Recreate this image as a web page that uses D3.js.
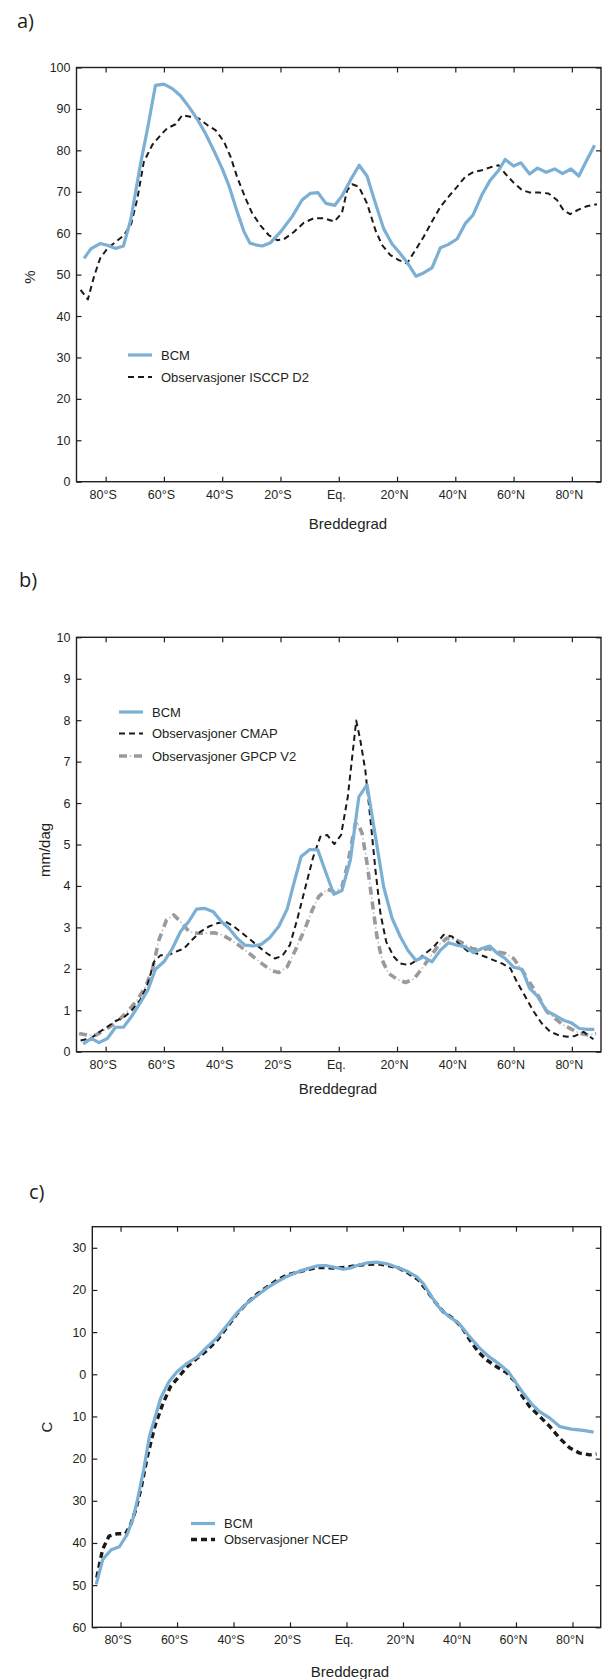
<!DOCTYPE html>
<html>
<head>
<meta charset="utf-8">
<script src="https://cdn.jsdelivr.net/npm/d3@7"></script>
<style>
  body { margin: 0; background: #fff; }
  svg { display: block; font-family: "Liberation Sans", Arial, sans-serif; }
  .tick text { fill: #231f20; }
</style>
</head>
<body>
<svg id="chart" width="613" height="1679"></svg>
<script>
// latitude ticks, shared by all three panels
const lonTicks = [-80, -60, -40, -20, 0, 20, 40, 60, 80]
const lonLabels = ["80°S", "60°S", "40°S", "20°S", "Eq.", "20°N", "40°N", "60°N", "80°N"]

// a) cloud cover (%)
const cloudBcmLat = [-87.4, -85.1, -81.9, -79.4, -76.6, -73.9, -71.4, -68, -65.5, -62.9, -60, -57.1, -54.3, -51.4, -48.6, -45.7, -42.9, -40, -37.7, -35, -32.6, -30.5, -28, -26.3, -23.4, -20, -16, -12.6, -9.8, -7.2, -4.4, -1.4, 1.1, 4, 7, 9.7, 12.6, 15.4, 18.3, 21.1, 23.7, 26.5, 29.1, 32, 34.9, 37.7, 40.6, 43.4, 46.1, 49.1, 52, 54.9, 57.1, 60, 62.5, 65.5, 68.2, 71.2, 74.1, 76.8, 79.7, 82.4, 85.1, 87.8]
const cloudBcm = [53.9, 56.2, 57.5, 57.1, 56.3, 56.9, 63.2, 76.8, 85.7, 95.7, 96, 94.9, 93.2, 90.5, 87.6, 84, 80, 75.6, 71.5, 65.5, 60.5, 57.6, 57.1, 56.9, 57.7, 60.3, 64, 68, 69.6, 69.8, 67.2, 66.7, 69, 72.8, 76.4, 73.8, 67.2, 61.1, 57.4, 55.1, 52.7, 49.6, 50.4, 51.6, 56.5, 57.3, 58.6, 62.3, 64.4, 69.2, 72.8, 75.2, 77.8, 76.2, 77, 74.3, 75.7, 74.7, 75.5, 74.4, 75.5, 73.8, 77.6, 81.2]
const cloudObsLat = [-88.6, -86.1, -84, -81.9, -79.4, -76.6, -73.7, -71.2, -69.1, -66.9, -64, -61.1, -58.9, -56, -53.7, -50.9, -48, -45.1, -42.3, -39.4, -37.1, -34.9, -32, -29.7, -26.9, -24, -21.1, -18.9, -15.4, -12, -8.6, -5.1, -1.5, 1.1, 2.9, 4.6, 6.9, 9.7, 12.6, 14.9, 17.7, 20.6, 23.4, 26.3, 29.1, 32, 34.9, 37.7, 40.6, 43.4, 46.3, 49.1, 52, 54.9, 57.1, 60, 62.9, 65.7, 68.6, 72, 74.9, 77.1, 79.4, 82.3, 85.1, 88.6]
const cloudObs = [46.3, 44, 49.5, 53.9, 56.3, 57.9, 59.5, 62.3, 68.4, 77.2, 81.3, 83.7, 85.3, 86.3, 88.5, 88.1, 87.7, 86.1, 84.9, 82.1, 78.4, 73.6, 68.4, 64.8, 61.9, 59.5, 58.3, 58.5, 60.3, 62.5, 63.6, 63.6, 62.8, 64.9, 70.4, 71.8, 71.2, 67.2, 60.7, 57.1, 54.7, 53.5, 52.7, 55.9, 59.1, 62.8, 66.4, 68.8, 71.2, 73.6, 74.8, 75.2, 75.9, 76.4, 74.4, 72.2, 70.4, 69.8, 69.8, 69.6, 68, 65.6, 64.6, 65.7, 66.5, 67]

// b) precipitation (mm/dag)
const precBcmLat = [-87.7, -84.9, -82.3, -79.4, -76.6, -73.9, -71.2, -68.2, -65.5, -62.9, -60, -57.1, -54.3, -51.4, -48.8, -46.1, -43.1, -40.3, -37.7, -34.9, -32.2, -29.4, -26.6, -23.7, -20.6, -17.7, -15.4, -12.9, -9.9, -7.2, -4.3, -1.7, 1.1, 4, 6.9, 9.7, 12.6, 15.4, 18.3, 21.1, 23.7, 26.5, 29.1, 32, 34.9, 37.7, 40.6, 43.4, 46.3, 49.1, 51.8, 54.5, 57.1, 60, 62.9, 65.5, 68.2, 71.2, 74.1, 77.1, 79.7, 82.6, 85.4, 87.7]
const precBcm = [0.19, 0.32, 0.22, 0.32, 0.59, 0.59, 0.84, 1.17, 1.49, 1.99, 2.17, 2.49, 2.9, 3.15, 3.44, 3.46, 3.38, 3.14, 2.98, 2.74, 2.57, 2.55, 2.59, 2.75, 3.02, 3.44, 4.06, 4.71, 4.88, 4.87, 4.3, 3.8, 3.89, 4.63, 6.15, 6.44, 5.19, 3.98, 3.22, 2.78, 2.45, 2.2, 2.29, 2.17, 2.45, 2.63, 2.57, 2.53, 2.39, 2.49, 2.55, 2.37, 2.25, 2.04, 1.99, 1.53, 1.34, 0.99, 0.88, 0.76, 0.7, 0.56, 0.54, 0.54]
const precCmapLat = [-88.6, -85.1, -82.3, -79.4, -76.6, -73.7, -70.9, -68, -65.5, -63.4, -61.1, -58.9, -56, -53.1, -50.3, -47.4, -44.6, -41.7, -38.9, -36, -33.1, -30.3, -27.4, -24.6, -21.9, -19.4, -16.8, -14.3, -11.4, -8.8, -6.3, -4, -1.5, 0.8, 3.1, 6, 7.4, 9.1, 10.9, 12.6, 14.3, 16.3, 18.9, 21.1, 24, 26.9, 29.7, 32.6, 36, 38.9, 41.7, 44.6, 47.4, 50.3, 53.1, 56, 58.9, 61.1, 64, 66.9, 69.7, 72.6, 75.4, 78.3, 81.1, 84, 87.4]
const precCmap = [0.27, 0.32, 0.47, 0.6, 0.74, 0.83, 1.01, 1.26, 1.65, 2.17, 2.33, 2.32, 2.41, 2.49, 2.7, 2.9, 3.02, 3.1, 3.14, 3.02, 2.86, 2.7, 2.53, 2.37, 2.25, 2.31, 2.57, 3.18, 3.98, 4.69, 5.19, 5.23, 5.01, 5.23, 6.15, 7.99, 7.52, 6.8, 5.59, 4.38, 3.34, 2.65, 2.29, 2.13, 2.09, 2.21, 2.37, 2.53, 2.82, 2.78, 2.57, 2.41, 2.37, 2.29, 2.21, 2.13, 2.01, 1.69, 1.33, 0.97, 0.68, 0.48, 0.4, 0.36, 0.38, 0.48, 0.3]
const precGpcpLat = [-89.1, -86.3, -83.4, -80.6, -77.7, -74.9, -72, -69.1, -66.3, -64, -61.7, -59.1, -56.6, -54.3, -51.4, -48.6, -45.7, -42.9, -40, -37.1, -34.3, -31.4, -28.6, -25.7, -22.9, -20.6, -17.7, -14.9, -12, -9.1, -6.9, -4, -1.5, 1.1, 2.9, 5.7, 6.3, 8, 9.7, 11.4, 13.1, 14.9, 17.1, 20, 22.9, 25.7, 28.6, 31.4, 34.3, 37.1, 40, 42.9, 45.7, 48.6, 51.4, 54.3, 57.1, 60, 62.9, 65.7, 68.6, 71.4, 74.3, 77.1, 80, 82.9, 85.7, 88.3]
const precGpcp = [0.44, 0.4, 0.4, 0.51, 0.64, 0.8, 1.01, 1.25, 1.57, 1.97, 2.7, 3.18, 3.3, 3.14, 2.9, 2.86, 2.86, 2.87, 2.82, 2.7, 2.57, 2.41, 2.25, 2.09, 1.95, 1.91, 2.05, 2.45, 2.9, 3.42, 3.74, 3.92, 3.86, 3.98, 4.47, 5.51, 5.55, 5.27, 4.55, 3.66, 2.78, 2.21, 1.89, 1.75, 1.67, 1.75, 2.01, 2.29, 2.57, 2.74, 2.7, 2.61, 2.49, 2.45, 2.49, 2.41, 2.37, 2.25, 1.97, 1.65, 1.33, 0.97, 0.8, 0.64, 0.54, 0.44, 0.4, 0.44]

// c) surface temperature (C)
const tempBcmLat = [-88.6, -86.3, -83.3, -80.4, -77.7, -75.7, -74, -71.8, -69.8, -65.8, -62.9, -60, -56.4, -52.9, -49.3, -45.8, -42.3, -38.7, -35.2, -31.7, -28.1, -24.6, -21.1, -17.5, -14, -10.5, -7.5, -4.6, -1.1, 1.5, 3.7, 7.2, 10.7, 14.3, 17.8, 21.3, 24.9, 27.2, 30.2, 33.1, 36.1, 39.6, 43.1, 46.7, 50.2, 53.7, 57.3, 60.2, 62.6, 65.5, 68.5, 72, 75.5, 79.6, 83.8, 87.5]
const tempBcm = [-49.8, -43.9, -41.6, -40.9, -38, -34.5, -29.7, -22.6, -14.8, -5.7, -1.8, 0.6, 2.6, 4.1, 6.5, 8.7, 11.6, 14.6, 16.9, 18.7, 20.5, 21.9, 23.2, 24.2, 25, 25.7, 25.8, 25.4, 24.9, 25.2, 25.8, 26.4, 26.6, 26.2, 25.4, 24.5, 23.1, 21.5, 18.3, 15.6, 13.8, 12.2, 9.3, 6.5, 4.3, 2.6, 0.6, -2.2, -4.5, -7, -8.9, -10.4, -12.4, -13, -13.3, -13.7]
const tempNcepLat = [-88.4, -86.4, -84.1, -81.1, -78.2, -76.4, -74.6, -72.6, -70.5, -67.9, -65.2, -62.3, -59.4, -56.4, -52.9, -49.3, -45.8, -42.3, -38.7, -35.2, -31.7, -28.1, -24.6, -21.1, -17.5, -14, -10.5, -7, -3.5, 0.1, 3.7, 7.2, 11.3, 14.8, 18.4, 21.9, 25.5, 28.4, 31.3, 34.3, 37.8, 40.8, 43.7, 46.7, 49.6, 53.1, 56.7, 59.6, 62, 64.9, 68.4, 72, 75.5, 79.1, 82.6, 86.1, 88.5]
const tempNcep = [-48.2, -41.6, -38.4, -37.8, -37.8, -35.6, -32.1, -26.6, -19.5, -12.4, -7.3, -2.9, -0.6, 1.8, 3.8, 5.7, 8.1, 11.2, 14.4, 16.9, 19, 20.7, 22.3, 23.5, 24.2, 24.8, 25.3, 25.3, 25.2, 25.4, 25.8, 26.1, 26.2, 25.8, 25.2, 24, 22.4, 19.9, 17.2, 14.8, 13.2, 11.2, 8.1, 5.3, 3.4, 1.8, 0.4, -1.7, -4.9, -7.7, -10, -12.4, -15.2, -17.5, -18.7, -19.1, -18.9]

const ink = "#231f20"
const blue = "#7bafd4"

const styles = {
    bcm: { stroke: blue, width: 3.2 },
    obs: { stroke: "#1a1a1a", width: 2, dash: "6,4" },
    gpcp: { stroke: "#9a9a9a", width: 3.6, dash: "8,7" },
    ncep: { stroke: "#1a1a1a", width: 3.4, dash: "6,4" }
}

const svg = d3.select("#chart")
svg.append("rect").attr("width", 613).attr("height", 1679).attr("fill", "#fff")

const panels = [
    {
        tag: "a)", tagX: 17, tagY: 28,
        left: 76.5, right: 601, top: 67.5, bottom: 481.7,
        yDomain: [0, 100], yTicks: d3.range(0, 101, 10),
        yLabel: "%", yLabelX: 30, yLabelY: 277,
        xLabelX: 348, xLabelY: 529,
        series: [
            { lat: cloudBcmLat, val: cloudBcm, style: "bcm", name: "BCM" },
            { lat: cloudObsLat, val: cloudObs, style: "obs", name: "Observasjoner ISCCP D2" }
        ],
        legX: 128, legY: [355, 377]
    },
    {
        tag: "b)", tagX: 19, tagY: 587,
        left: 76.5, right: 601, top: 637.3, bottom: 1051.7,
        yDomain: [0, 10], yTicks: d3.range(0, 11, 1),
        yLabel: "mm/dag", yLabelX: 45, yLabelY: 850,
        xLabelX: 338, xLabelY: 1094,
        series: [
            { lat: precBcmLat, val: precBcm, style: "bcm", name: "BCM" },
            { lat: precCmapLat, val: precCmap, style: "obs", name: "Observasjoner CMAP" },
            { lat: precGpcpLat, val: precGpcp, style: "gpcp", name: "Observasjoner GPCP V2" }
        ],
        legX: 119, legY: [712, 733.5, 756]
    },
    {
        tag: "c)", tagX: 29, tagY: 1199,
        left: 92.3, right: 600.7, top: 1226.7, bottom: 1627.3,
        yDomain: [-60, 35], yTicks: d3.range(-60, 31, 10),
        yLabel: "C", yLabelX: 47, yLabelY: 1427,
        xLabelX: 350, xLabelY: 1677,
        series: [
            { lat: tempBcmLat, val: tempBcm, style: "bcm", name: "BCM" },
            { lat: tempNcepLat, val: tempNcep, style: "ncep", name: "Observasjoner NCEP" }
        ],
        legX: 191, legY: [1523.5, 1539.5]
    }
]

// gray dash-dot line: thick gray dashes plus a thin light dot in each gap
function strokeSeries(g, d, style) {
    const s = styles[style]
    g.append("path")
        .attr("d", d)
        .attr("fill", "none")
        .attr("stroke", s.stroke)
        .attr("stroke-width", s.width)
        .attr("stroke-dasharray", s.dash || null)
        .attr("stroke-linejoin", "round")
    if (style === "gpcp") {
        g.append("path")
            .attr("d", d)
            .attr("fill", "none")
            .attr("stroke", "#c4c4c4")
            .attr("stroke-width", 1.4)
            .attr("stroke-dasharray", "0,10.5,2,2.5")
    }
}

panels.forEach(p => {
    const x = d3.scaleLinear().domain([-90, 90]).range([p.left, p.right])
    const y = d3.scaleLinear().domain(p.yDomain).range([p.bottom, p.top])
    const g = svg.append("g")

    svg.append("text")
        .attr("x", p.tagX).attr("y", p.tagY)
        .attr("font-family", "'Open Sans', 'Noto Sans', sans-serif")
        .attr("font-size", 20)
        .attr("fill", ink)
        .text(p.tag)

    // axes, all ticks pointing inward
    const xb = g.append("g").attr("transform", `translate(0,${p.bottom})`)
        .call(d3.axisBottom(x).tickValues(lonTicks).tickSize(-5).tickPadding(8)
            .tickFormat((d, i) => lonLabels[i]))
    xb.selectAll("text").attr("font-size", 12.5).attr("dx", -3)
    g.append("g").attr("transform", `translate(0,${p.top})`)
        .call(d3.axisTop(x).tickValues(lonTicks).tickSize(-5).tickFormat(""))
    const yl = g.append("g").attr("transform", `translate(${p.left},0)`)
        .call(d3.axisLeft(y).tickValues(p.yTicks).tickSize(-5).tickPadding(6)
            .tickFormat(d => Math.abs(d)))
    yl.selectAll("text").attr("font-size", 12.5)
    g.append("g").attr("transform", `translate(${p.right},0)`)
        .call(d3.axisRight(y).tickValues(p.yTicks).tickSize(-5).tickFormat(""))
    g.selectAll(".domain").remove()
    g.selectAll(".tick line").attr("stroke", ink).attr("stroke-width", 1.2)

    g.append("rect")
        .attr("x", p.left).attr("y", p.top)
        .attr("width", p.right - p.left).attr("height", p.bottom - p.top)
        .attr("fill", "none").attr("stroke", ink).attr("stroke-width", 1.4)

    // data lines, observations below the model
    const clip = "clip" + p.tag[0]
    svg.append("clipPath").attr("id", clip).append("rect")
        .attr("x", p.left).attr("y", p.top)
        .attr("width", p.right - p.left).attr("height", p.bottom - p.top)
    const lines = g.append("g").attr("clip-path", `url(#${clip})`)
    const line = d3.line().x(d => x(d[0])).y(d => y(d[1]))
    p.series.slice().reverse().forEach(s => {
        strokeSeries(lines, line(s.lat.map((la, i) => [la, s.val[i]])), s.style)
    })

    // legend
    p.series.forEach((s, i) => {
        const ly = p.legY[i]
        strokeSeries(g, `M${p.legX},${ly}H${p.legX + 24}`, s.style)
        g.append("text")
            .attr("x", p.legX + 33).attr("y", ly).attr("dy", "0.35em")
            .attr("font-size", 13).attr("fill", ink)
            .text(s.name)
    })

    svg.append("text")
        .attr("x", p.xLabelX).attr("y", p.xLabelY)
        .attr("text-anchor", "middle").attr("font-size", 15).attr("fill", ink)
        .text("Breddegrad")
    svg.append("text")
        .attr("transform", `translate(${p.yLabelX},${p.yLabelY}) rotate(-90)`)
        .attr("text-anchor", "middle").attr("dy", "0.35em")
        .attr("font-size", 15).attr("fill", ink)
        .text(p.yLabel)
})
</script>
</body>
</html>
